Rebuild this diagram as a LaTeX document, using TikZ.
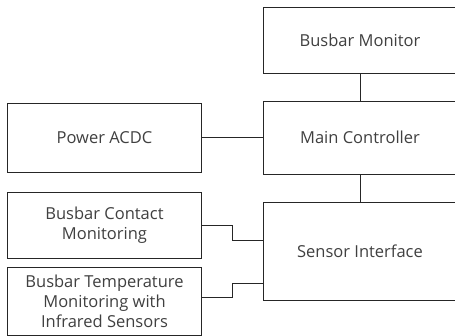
\documentclass[tikz,border=0pt]{standalone}
\usepackage{fontspec}
\setmainfont{Open Sans}
\usepackage{tikz}
\usetikzlibrary{positioning,calc}

\tikzset{
  block/.style={draw=black!85, line width=0.9pt, fill=white, minimum width=194, minimum height=#1,
    inner sep=0pt, align=center, text=black!75, font=\fontsize{16.5}{20}\selectfont},
  block/.default=70,
  link/.style={draw=black!85, line width=0.9pt}
}

\begin{document}
\begin{tikzpicture}[x=1pt,y=-1pt]
\useasboundingbox (0,0) rectangle (455,336);
\clip (0,0) rectangle (455,336);
\node[block=66] (monitor) at (360,40) {Busbar Monitor};
\node[block=73] (main) at (360,137.5) {Main Controller};
\node[block=69] (power) at (104.5,137.5) {Power ACDC};
\node[block=98] (sensor) at (360,251) {Sensor Interface};
\node[block=66] (contact) at (104.5,225) {Busbar Contact\\Monitoring};
\node[block=68] (temp) at (104.5,301) {Busbar Temperature\\Monitoring with\\Infrared Sensors};
% connectors
\draw[link] (monitor) -- (main);
\draw[link] (main) -- (sensor);
\draw[link] (power) -- (main);
\draw[link] (contact.east) -- ++(30,0) |- ($(sensor.west)+(0,-11)$);
\draw[link] ($(temp.east)+(0,-4)$) -- ++(30,0) |- ($(sensor.west)+(0,32)$);
\end{tikzpicture}
\end{document}
